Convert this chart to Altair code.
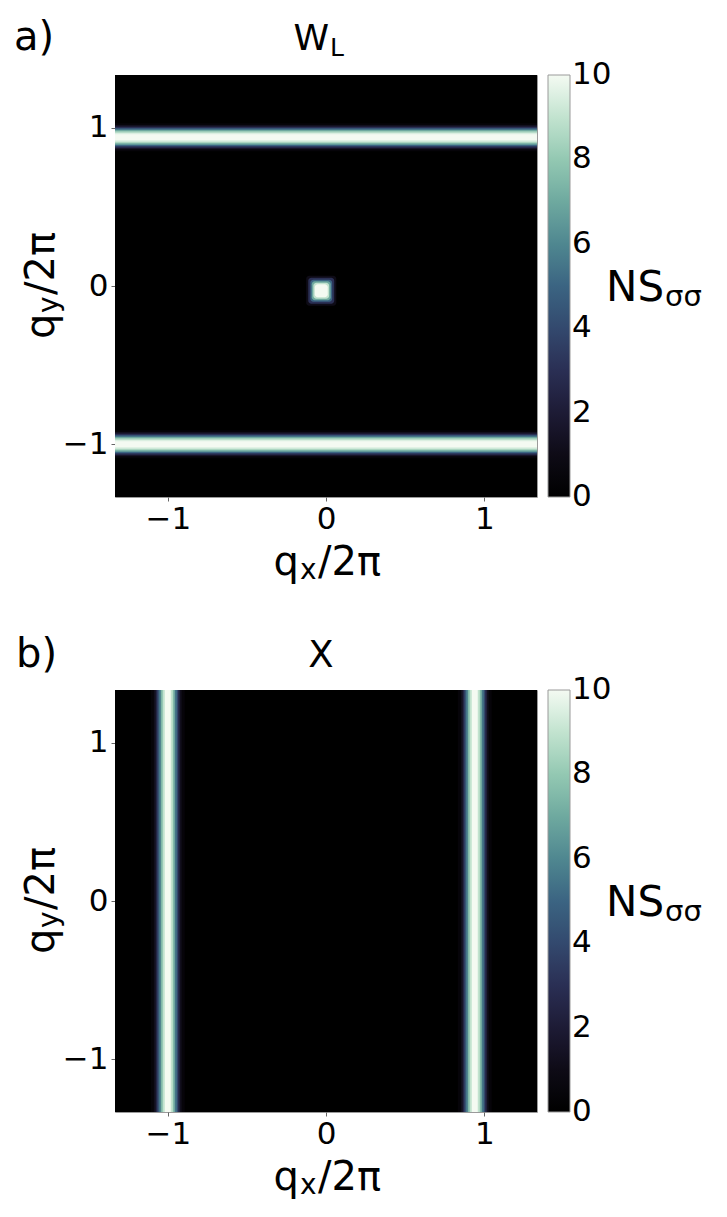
import altair as alt
import pandas as pd

# ---------------- data ----------------
Q_MIN, Q_MAX = -4 / 3, 4 / 3          # q/2π extent of both maps
tick_values = [-1, 0, 1]
cbar_values = [0.000001, 2, 4, 6, 8, 9.999999]   # shown as 0 ... 10

# colour map stops (value -> colour)
cmap_domain = [0, 1, 2, 3, 4, 5, 6, 7, 8, 9, 10]
cmap_range = ["#000000", "#0e0b16", "#1d1b35", "#2a2f54", "#33496e", "#3b6482",
              "#4f8790", "#6ea99f", "#93c8b2", "#c2e3cf", "#f4faf2"]

# panel a) W_L : two horizontal ridges and a central peak
a_ridge_qy = [0.94, -1.0]
a_ridge_halfwidth = [0.088, 0.076, 0.066, 0.057, 0.047, 0.038, 0.028, 0.019]
a_ridge_value = [0.4, 1.5, 3.0, 5.0, 7.0, 8.5, 9.5, 10.0]
a_peak_center = (-0.03, -0.03)
a_peak_halfwidth = [0.095, 0.082, 0.069, 0.060, 0.050, 0.041]
a_peak_value = [1.0, 3.0, 5.0, 7.0, 9.0, 10.0]

# panel b) X : two vertical ridges
b_ridge_qx = [-1.0, 0.94]
b_ridge_halfwidth = [0.107, 0.088, 0.076, 0.066, 0.057, 0.044, 0.032, 0.019]
b_ridge_value = [0.4, 1.2, 2.5, 4.0, 5.5, 7.5, 9.0, 10.0]


def table_a():
    rows = [dict(x=Q_MIN, x2=Q_MAX, y=Q_MIN, y2=Q_MAX, v=0.0)]
    for c in a_ridge_qy:
        for hw, v in zip(a_ridge_halfwidth, a_ridge_value):
            rows.append(dict(x=Q_MIN, x2=Q_MAX, y=c - hw, y2=c + hw, v=v))
    return pd.DataFrame(rows)


def table_a_peak():
    cx, cy = a_peak_center
    rows = [dict(x=cx - hw, x2=cx + hw, y=cy - hw, y2=cy + hw, v=v)
            for hw, v in zip(a_peak_halfwidth, a_peak_value)]
    return pd.DataFrame(rows)


def table_b():
    rows = [dict(x=Q_MIN, x2=Q_MAX, y=Q_MIN, y2=Q_MAX, v=0.0)]
    for c in b_ridge_qx:
        for hw, v in zip(b_ridge_halfwidth, b_ridge_value):
            rows.append(dict(x=c - hw, x2=c + hw, y=Q_MIN, y2=Q_MAX, v=v))
    return pd.DataFrame(rows)


FONT = "DejaVu Sans"
W = H = 422

XSC = alt.Scale(domain=[Q_MIN, Q_MAX], nice=False, zero=False)
CSC = alt.Scale(domain=cmap_domain, range=cmap_range, interpolate="rgb")


def txt(s, x, y, size, align="left", angle=0, baseline="alphabetic"):
    kw = dict(font=FONT, fontSize=size, align=align, baseline=baseline, color="black")
    if angle:
        kw["angle"] = angle
    return alt.Chart(pd.DataFrame({"t": [s]})).mark_text(**kw).encode(
        text="t:N", x=alt.value(x), y=alt.value(y))


def heat(df, **mark_kw):
    ax = alt.Axis(values=tick_values, format="d", title=None)
    return alt.Chart(df).mark_rect(clip=True, **mark_kw).encode(
        x=alt.X("x:Q", scale=XSC, axis=ax),
        x2="x2",
        y=alt.Y("y:Q", scale=XSC, axis=ax),
        y2="y2",
        color=alt.Color("v:Q", scale=CSC,
                        legend=alt.Legend(title=None, values=cbar_values, format="d",
                                          labelBaseline="middle")),
    )


def common_texts():
    return [
        # x axis title  q_x/2π
        txt("q", 184, 500, 40, align="right"),
        txt("x", 185, 504, 28),
        txt("/2π", 203, 500, 40),
        # y axis title  q_y/2π (rotated)
        txt("q", -61, 264, 40, angle=270),
        txt("y", -57, 238, 28, angle=270),
        txt("/2π", -61, 220, 40, angle=270),
        # colour bar label NS_σσ
        txt("NS", 491, 226, 42),
        txt("σσ", 550, 231, 29),
    ]


panel_a = alt.layer(
    heat(table_a()),
    heat(table_a_peak(), cornerRadius=3),
    txt("a)", -101, -25, 40),
    txt("W", 214, -25, 36, align="right"),
    txt("L", 215, -19, 25),
    *common_texts(),
).properties(width=W, height=H)

panel_b = alt.layer(
    heat(table_b()),
    txt("b)", -99, -23, 40),
    txt("X", 206, -23, 37, align="center"),
    *common_texts(),
).properties(width=W, height=H)

chart = (
    alt.vconcat(panel_a, panel_b, spacing=48)
    .resolve_scale(color="independent")
    .properties(padding={"left": 5, "top": 9, "right": 5, "bottom": 5})
    .configure_view(stroke="#9a9a9a", strokeWidth=1)
    .configure_axis(labelFont=FONT, labelFontSize=31, labelColor="black",
                    tickColor="#666666", tickSize=4, domain=False, grid=False,
                    labelPadding=3)
    .configure_legend(gradientLength=H, gradientThickness=22, labelFont=FONT,
                      labelFontSize=31, labelColor="black", offset=11, padding=0,
                      labelOffset=10, gradientStrokeColor="#9a9a9a",
                      gradientStrokeWidth=1, labelBaseline="middle",
                      labelOverlap=False, direction="vertical")
)

chart.save("out.html", embed_options={"renderer": "svg", "actions": False})
